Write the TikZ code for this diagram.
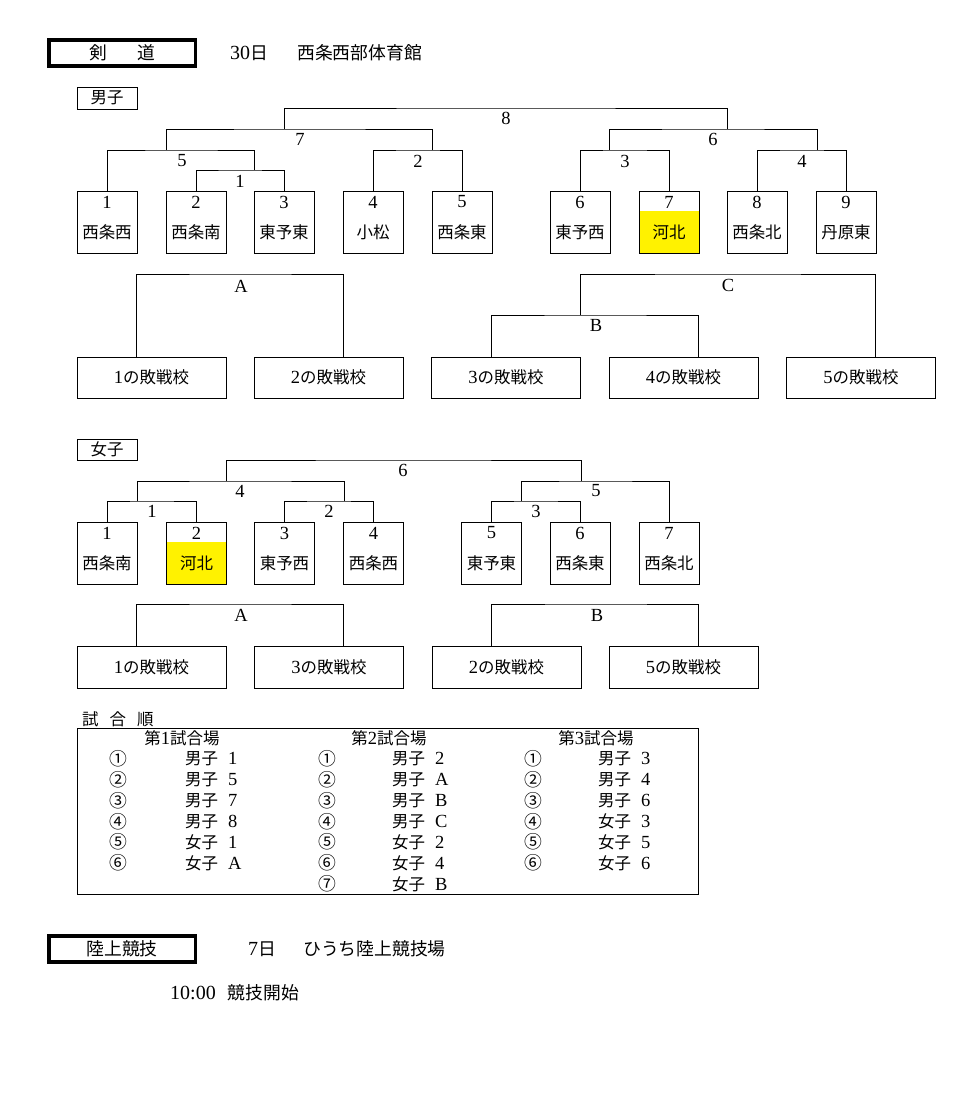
\documentclass[tikz,border=0pt]{standalone}
\usepackage{fontspec}
\setmainfont{Liberation Serif}
\newfontfamily\jp[Scale=0.89]{Noto Sans CJK JP}
\usetikzlibrary{calc,backgrounds}
\newcommand{\fsz}{\fontsize{18.5}{21}\selectfont}
\newcommand{\fhd}{\fontsize{20}{23}\selectfont}
\newcommand{\fcir}{\fontsize{20}{23}\selectfont}
\begin{document}
\begin{tikzpicture}[x=1pt,y=-1pt,
  ln/.style={line width=0.9pt},
  tbox/.style={draw,line width=0.9pt,minimum width=60pt,minimum height=62pt,inner sep=0pt},
  lbox/.style={draw,line width=0.9pt,minimum width=149pt,minimum height=41pt,inner sep=0pt,font=\fsz},
  gbox/.style={draw,line width=0.9pt,minimum width=60pt,minimum height=22pt,inner sep=0pt,font=\fsz},
  hbox/.style={draw,line width=3.5pt,minimum width=146.5pt,minimum height=26pt,inner sep=0pt,font=\fhd},
  lbl/.style={inner sep=0pt,font=\fsz},
  cir/.style={inner sep=0pt,font=\fcir},
  hd/.style={inner sep=0pt,font=\fhd,anchor=west},
  hl/.style={fill=yellow}
]
\useasboundingbox (0,0) rectangle (972,1093);

% ---------- header ----------
\node[hbox] (kendo) at (122,53) {\jp 剣\hspace{1.7em}道};
\node[hd] (kday) at (230,53) {30\jp 日};
\node[hd] (kplace) at (297,53) {\jp 西条西部体育館};

% ---------- men ----------
\node[gbox] (men) at (107,98) {\jp 男子};

\foreach \k/\x/\t in {1/107/西条西,2/196/西条南,3/284/東予東,4/373/小松,5/462/西条東,6/580/東予西,7/669/河北,8/757/西条北,9/846/丹原東}{
  \node[tbox] (m\k) at (\x,222) {};
}
\begin{scope}[on background layer]
  \fill[hl] ($(m7.south west)+(0,-42)$) rectangle (m7.south east);
\end{scope}
\foreach \k/\x/\t in {1/107/西条西,2/196/西条南,3/284/東予東,4/373/小松,5/462/西条東,6/580/東予西,7/669/河北,8/757/西条北,9/846/丹原東}{
  \node[lbl] (m\k n) at (\x,202) {\k};
  \node[lbl] (m\k t) at (\x,232) {\jp \t};
}

\coordinate (p1) at (240,170);
\draw[ln] (m2.north) |- (p1) -| (m3.north);
\node[lbl] (n1) at (240,181) {1};

\coordinate (j1) at (254,170);
\coordinate (p5) at (182,150);
\draw[ln] (m1.north) |- (p5) -| (j1);
\node[lbl] (n5) at (182,161) {5};

\coordinate (p2) at (418,150);
\draw[ln] (m4.north) |- (p2) -| (m5.north);
\node[lbl] (n2) at (418,161) {2};

\coordinate (j5) at (166,150);
\coordinate (j2) at (432,150);
\coordinate (p7) at (300,129);
\draw[ln] (j5) |- (p7) -| (j2);
\node[lbl] (n7) at (300,139) {7};

\coordinate (p3) at (625,150);
\draw[ln] (m6.north) |- (p3) -| (m7.north);
\node[lbl] (n3) at (625,161) {3};

\coordinate (p4) at (802,150);
\draw[ln] (m8.north) |- (p4) -| (m9.north);
\node[lbl] (n4) at (802,161) {4};

\coordinate (j3) at (609,150);
\coordinate (j4) at (817,150);
\coordinate (p6) at (713,129);
\draw[ln] (j3) |- (p6) -| (j4);
\node[lbl] (n6) at (713,139) {6};

\coordinate (j7) at (284,129);
\coordinate (j6) at (727,129);
\coordinate (p8) at (506,108);
\draw[ln] (j7) |- (p8) -| (j6);
\node[lbl] (n8) at (506,118) {8};

% men consolation
\node[lbox] (l1) at (151.5,377.5) {1{\jp の敗戦校}};
\node[lbox] (l2) at (328.5,377.5) {2{\jp の敗戦校}};
\node[lbox] (l3) at (506,377.5) {3{\jp の敗戦校}};
\node[lbox] (l4) at (683.5,377.5) {4{\jp の敗戦校}};
\node[lbox] (l5) at (861,377.5) {5{\jp の敗戦校}};

\coordinate (pA) at (241,274);
\draw[ln] ([xshift=60pt]l1.north west) |- (pA) -| ([xshift=90pt]l2.north west);
\node[lbl] (nA) at (241,286) {A};

\coordinate (pB) at (596,315);
\draw[ln] ([xshift=60pt]l3.north west) |- (pB) -| ([xshift=90pt]l4.north west);
\node[lbl] (nB) at (596,325) {B};

\coordinate (jB) at (580,315);
\coordinate (pC) at (728,274);
\draw[ln] (jB) |- (pC) -| ([xshift=89pt]l5.north west);
\node[lbl] (nC) at (728,285) {C};

% ---------- women ----------
\node[gbox,minimum height=21pt] (women) at (107,449.5) {\jp 女子};

\foreach \k/\x/\t in {1/107/西条南,2/196.5/河北,3/284.5/東予西,4/373.5/西条西,5/491.5/東予東,6/580/西条東,7/669/西条北}{
  \node[tbox] (w\k) at (\x,553) {};
}
\begin{scope}[on background layer]
  \fill[hl] ($(w2.south west)+(0,-42)$) rectangle (w2.south east);
\end{scope}
\foreach \k/\x/\t in {1/107/西条南,2/196.5/河北,3/284.5/東予西,4/373.5/西条西,5/491.5/東予東,6/580/西条東,7/669/西条北}{
  \node[lbl] (w\k n) at (\x,533) {\k};
  \node[lbl] (w\k t) at (\x,563) {\jp \t};
}

\coordinate (q1) at (152,501);
\draw[ln] (w1.north) |- (q1) -| (w2.north);
\node[lbl] (o1) at (152,511) {1};

\coordinate (q2) at (329,501);
\draw[ln] (w3.north) |- (q2) -| (w4.north);
\node[lbl] (o2) at (329,511) {2};

\coordinate (q3) at (536,501);
\draw[ln] (w5.north) |- (q3) -| (w6.north);
\node[lbl] (o3) at (536,511) {3};

\coordinate (jq1) at (137,501);
\coordinate (jq2) at (344,501);
\coordinate (q4) at (240,481);
\draw[ln] (jq1) |- (q4) -| (jq2);
\node[lbl] (o4) at (240,491) {4};

\coordinate (jq3) at (521,501);
\coordinate (q5) at (596,481);
\draw[ln] (jq3) |- (q5) -| (w7.north);
\node[lbl] (o5) at (596,491) {5};

\coordinate (jq4) at (226,481);
\coordinate (jq5) at (581,481);
\coordinate (q6) at (403,460);
\draw[ln] (jq4) |- (q6) -| (jq5);
\node[lbl] (o6) at (403,470) {6};

% women consolation
\node[lbox,minimum height=42pt] (v1) at (151.5,667) {1{\jp の敗戦校}};
\node[lbox,minimum height=42pt] (v2) at (329,667) {3{\jp の敗戦校}};
\node[lbox,minimum height=42pt] (v3) at (506.5,667) {2{\jp の敗戦校}};
\node[lbox,minimum height=42pt] (v4) at (683.5,667) {5{\jp の敗戦校}};

\coordinate (qA) at (241,604);
\draw[ln] ([xshift=60pt]v1.north west) |- (qA) -| ([xshift=89pt]v2.north west);
\node[lbl] (oA) at (241,615) {A};

\coordinate (qB) at (597,604);
\draw[ln] ([xshift=60pt]v3.north west) |- (qB) -| ([xshift=90pt]v4.north west);
\node[lbl] (oB) at (597,615) {B};

% ---------- match order table ----------
\node[hd,font=\fsz] (order) at (82,719) {\jp 試\hspace{11pt}合\hspace{11pt}順};
\node[draw,line width=0.9pt,minimum width=621pt,minimum height=166pt,inner sep=0pt] (tbl) at (387.5,811) {};

\node[lbl] (h1) at (182,738) {{\jp 第}1{\jp 試合場}};
\node[lbl] (h2) at (389,738) {{\jp 第}2{\jp 試合場}};
\node[lbl] (h3) at (596,738) {{\jp 第}3{\jp 試合場}};

\foreach \c/\g/\v [count=\k] in {①/男子/1,②/男子/5,③/男子/7,④/男子/8,⑤/女子/1,⑥/女子/A}{
  \node[cir] (a\k c) at (118,{759+20.8*(\k-1)}) {\jp \c};
  \node[lbl,anchor=west] (a\k g) at (185,{759+20.8*(\k-1)}) {{\jp \g}\hspace{10pt}\v};
}
\foreach \c/\g/\v [count=\k] in {①/男子/2,②/男子/A,③/男子/B,④/男子/C,⑤/女子/2,⑥/女子/4,⑦/女子/B}{
  \node[cir] (b\k c) at (327,{759+20.8*(\k-1)}) {\jp \c};
  \node[lbl,anchor=west] (b\k g) at (392,{759+20.8*(\k-1)}) {{\jp \g}\hspace{10pt}\v};
}
\foreach \c/\g/\v [count=\k] in {①/男子/3,②/男子/4,③/男子/6,④/女子/3,⑤/女子/5,⑥/女子/6}{
  \node[cir] (c\k c) at (533,{759+20.8*(\k-1)}) {\jp \c};
  \node[lbl,anchor=west] (c\k g) at (598,{759+20.8*(\k-1)}) {{\jp \g}\hspace{10pt}\v};
}

% ---------- athletics ----------
\node[hbox] (rikujo) at (122,949) {\jp 陸上競技};
\node[hd] (rday) at (248,949) {7\jp 日};
\node[hd] (rplace) at (303,949) {\jp ひうち陸上競技場};
\node[hd] (rtime) at (170,993) {10:00\hspace{12pt}{\jp 競技開始}};
\end{tikzpicture}
\end{document}
